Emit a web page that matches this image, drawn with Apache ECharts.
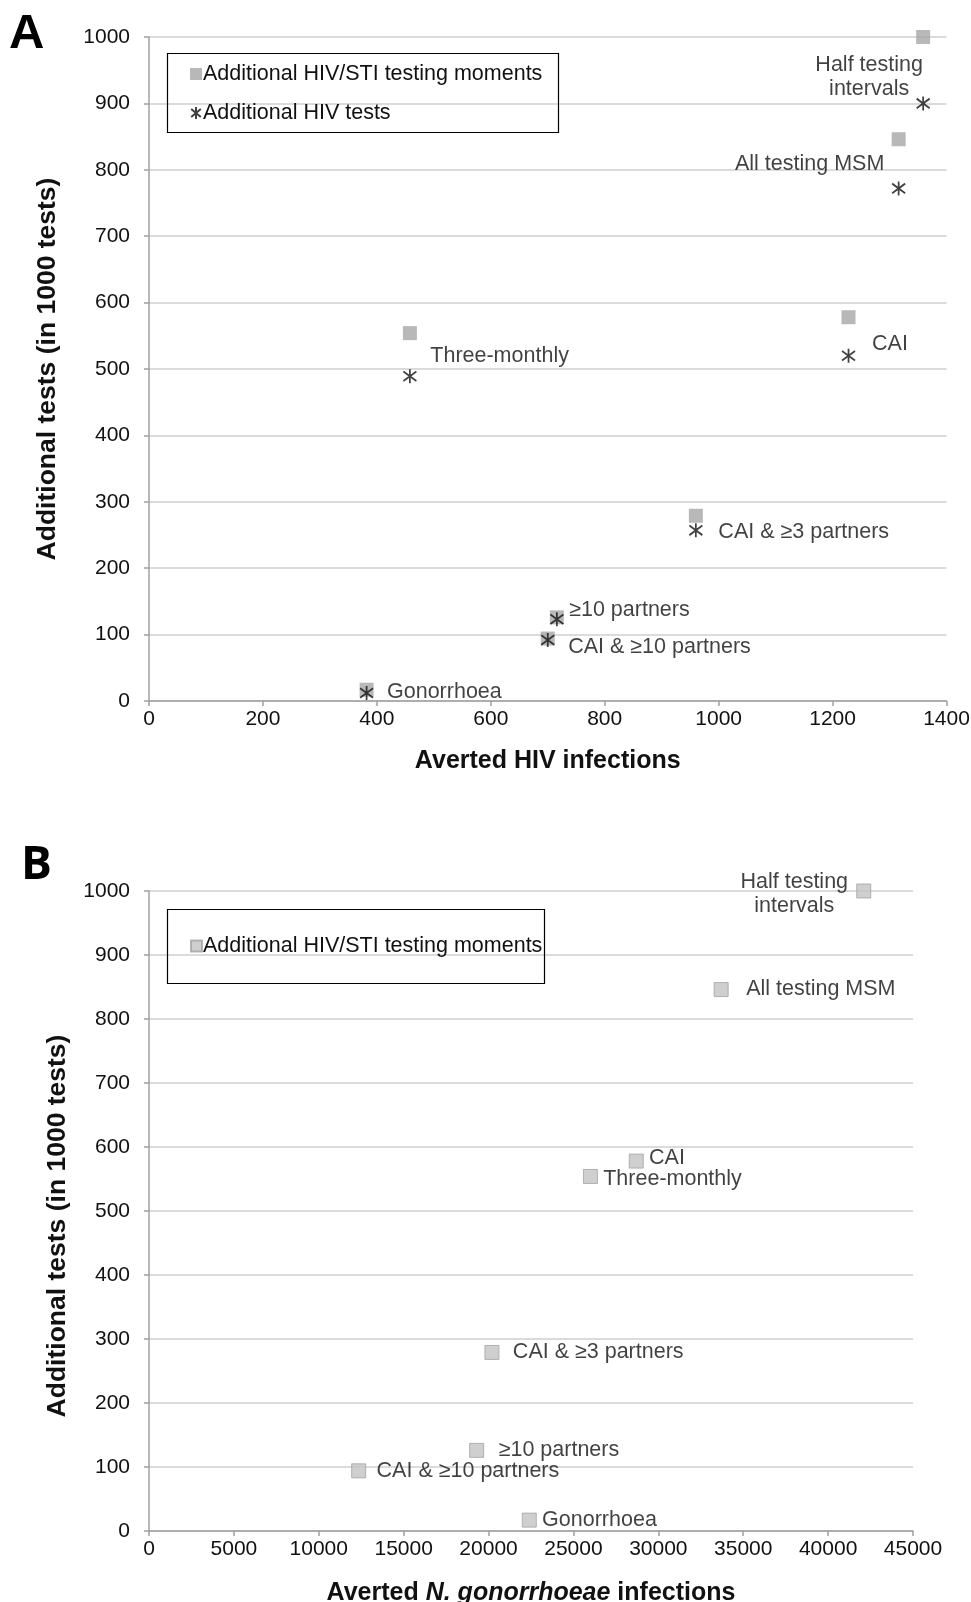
<!DOCTYPE html>
<html>
<head>
<meta charset="utf-8">
<script src="https://cdn.jsdelivr.net/npm/echarts@6/dist/echarts.min.js"></script>
<style>
html,body{margin:0;padding:0;background:#fff;}
#chart{width:971px;height:1602px;}
</style>
</head>
<body>
<div id="chart"></div>
<script>
// ---- data ----
const strategies = ['Half testing intervals','All testing MSM','CAI','Three-monthly','CAI & ≥3 partners','≥10 partners','CAI & ≥10 partners','Gonorrhoea'];
const pointLabels = ['Half testing\nintervals','All testing MSM','CAI','Three-monthly','CAI & ≥3 partners','≥10 partners','CAI & ≥10 partners','Gonorrhoea'];
const avertedHIV = [1359, 1316, 1228, 458, 960, 716, 700, 382];
const testingMoments = [1000, 846, 578, 554, 279, 126, 94, 17];
const hivTests = [900, 772, 520, 489, 257, 123, 92, 12];
const avertedNG = [42100, 33700, 28700, 26000, 20200, 19300, 12350, 22400];
const yTicks = [0,100,200,300,400,500,600,700,800,900,1000];
const xTicksA = [0,200,400,600,800,1000,1200,1400];
const xTicksB = [0,5000,10000,15000,20000,25000,30000,35000,40000,45000];

// ---- label placement (style) ----
const labelPlaceA = [
  {position:'inside', offset:[-54,40], align:'center'},
  {position:'inside', offset:[-89,24.5], align:'center'},
  {position:'right', offset:[16.5,26.6]},
  {position:'right', offset:[13.4,22.5]},
  {position:'right', offset:[15.5,16.4]},
  {position:'right', offset:[5.3,-7.2]},
  {position:'right', offset:[13.4,8.2]},
  {position:'right', offset:[13.4,2]}
];
const labelPlaceB = [
  {position:'inside', offset:[-69.5,3], align:'center'},
  {position:'right', offset:[17.5,0]},
  {position:'right', offset:[5.3,-3]},
  {position:'right', offset:[5.3,3]},
  {position:'right', offset:[13.4,0]},
  {position:'right', offset:[14.5,0]},
  {position:'right', offset:[10.4,0]},
  {position:'right', offset:[5.3,0]}
];

const FONT = "'Liberation Sans', Arial, sans-serif";
const TXT = '#111';
const STAR = 'path://M5,0 L5,10 M1,1.6 L9,8.4 M1,8.4 L9,1.6';

function makeData(xs, ys, withLabels, place){
  return xs.map((x,i)=>{
    const d = {name: strategies[i], value:[x, ys[i]]};
    if (withLabels){
      const p = place[i];
      d.label = {show:true, formatter: pointLabels[i], position:p.position, offset:p.offset, distance:0,
                 align:p.align || 'left', verticalAlign:'middle',
                 fontFamily:FONT, fontSize:21.5, color:TXT, lineHeight:24.5};
    }
    return d;
  });
}

function xAxisCfg(grid, max, interval, name, gap){
  return {
    type:'value', gridIndex:grid, min:0, max:max, interval:interval,
    name:name, nameLocation:'middle', nameGap:gap,
    nameTextStyle:{fontFamily:FONT, fontWeight:'bold', fontSize:25, color:TXT,
      rich:{b:{fontFamily:FONT, fontWeight:'bold', fontSize:25, color:TXT},
            i:{fontFamily:FONT, fontWeight:'bold', fontStyle:'italic', fontSize:25, color:TXT}}},
    axisLine:{show:true, onZero:false, lineStyle:{color:'#a0a0a0', width:1.5}},
    axisTick:{show:true, length:5, lineStyle:{color:'#a0a0a0', width:1.5}},
    axisLabel:{fontFamily:FONT, fontSize:21, color:TXT, margin:8, formatter:v=>String(v)},
    splitLine:{show:false}
  };
}
function yAxisCfg(grid){
  return {
    type:'value', gridIndex:grid, min:0, max:1000, interval:100,
    axisLine:{show:true, lineStyle:{color:'#a0a0a0', width:1.5}},
    axisTick:{show:true, length:5, lineStyle:{color:'#a0a0a0', width:1.5}},
    axisLabel:{fontFamily:FONT, fontSize:21, color:TXT, margin:19, formatter:v=>String(v)},
    splitLine:{show:true, lineStyle:{color:'#cfcfcf', width:1.5}}
  };
}

const chart = echarts.init(document.getElementById('chart'), null, {renderer:'canvas'});
chart.setOption({
  backgroundColor:'#fff',
  animation:false,
  grid:[
    {left:149, right:24.5, top:37, height:664, outerBoundsMode:'none', containLabel:false},
    {left:149, right:58, top:891, height:640, outerBoundsMode:'none', containLabel:false}
  ],
  xAxis:[
    xAxisCfg(0, 1400, 200, 'Averted HIV infections', 48),
    xAxisCfg(1, 45000, 5000, '{b|Averted }{i|N. gonorrhoeae}{b| infections}', 50)
  ],
  yAxis:[ yAxisCfg(0), yAxisCfg(1) ],
  legend:[
    {
      orient:'vertical', left:185, top:58, itemGap:17, itemWidth:12, itemHeight:12,
      data:['Additional HIV/STI testing moments','Additional HIV tests'],
      textStyle:{fontFamily:FONT, fontSize:21.5, color:TXT, padding:[0,0,0,-4]},
      selectedMode:false
    },
    {
      orient:'vertical', left:185, top:930, itemWidth:11, itemHeight:11,
      data:['B moments'],
      formatter:function(){return 'Additional HIV/STI testing moments';},
      textStyle:{fontFamily:FONT, fontSize:21.5, color:TXT, padding:[0,0,0,-4]},
      selectedMode:false
    }
  ],
  graphic:[
    {type:'rect', shape:{x:167.5, y:53.5, width:391, height:79}, style:{fill:'none', stroke:'#000', lineWidth:1.2}, z:10},
    {type:'rect', shape:{x:167.5, y:909.5, width:377, height:74}, style:{fill:'none', stroke:'#000', lineWidth:1.2}, z:10},
    {type:'text', left:9, top:10, style:{text:'A', font:"bold 49px 'Liberation Sans', Arial", fill:'#000'}},
    {type:'text', left:21, top:843, style:{text:'B', font:"bold 46px 'Open Sans', 'Liberation Sans'", fill:'#000'}},
    {type:'text', x:48, y:369, rotation:Math.PI/2,
      style:{text:'Additional tests (in 1000 tests)', font:"bold 26.5px 'Liberation Sans', Arial", fill:TXT, align:'center', verticalAlign:'middle'}},
    {type:'text', x:58, y:1226, rotation:Math.PI/2,
      style:{text:'Additional tests (in 1000 tests)', font:"bold 26.5px 'Liberation Sans', Arial", fill:TXT, align:'center', verticalAlign:'middle'}}
  ],
  series:[
    {
      name:'Additional HIV/STI testing moments', type:'scatter', xAxisIndex:0, yAxisIndex:0,
      symbol:'rect', symbolSize:14,
      itemStyle:{color:'#a6a6a6'},
      data: makeData(avertedHIV, testingMoments, true, labelPlaceA), z:2
    },
    {
      name:'Additional HIV tests', type:'scatter', xAxisIndex:0, yAxisIndex:0,
      symbol:STAR, symbolSize:[13,14],
      itemStyle:{color:'rgba(0,0,0,0)', borderColor:'#111', borderWidth:1.8},
      data: makeData(avertedHIV, hivTests, false), z:3
    },
    {
      name:'B moments', type:'scatter', xAxisIndex:1, yAxisIndex:1,
      symbol:'rect', symbolSize:14,
      itemStyle:{color:'#c3c3c3', borderColor:'#a3a3a3', borderWidth:1},
      data: makeData(avertedNG, testingMoments, true, labelPlaceB), z:2
    }
  ]
});
</script>
</body>
</html>
